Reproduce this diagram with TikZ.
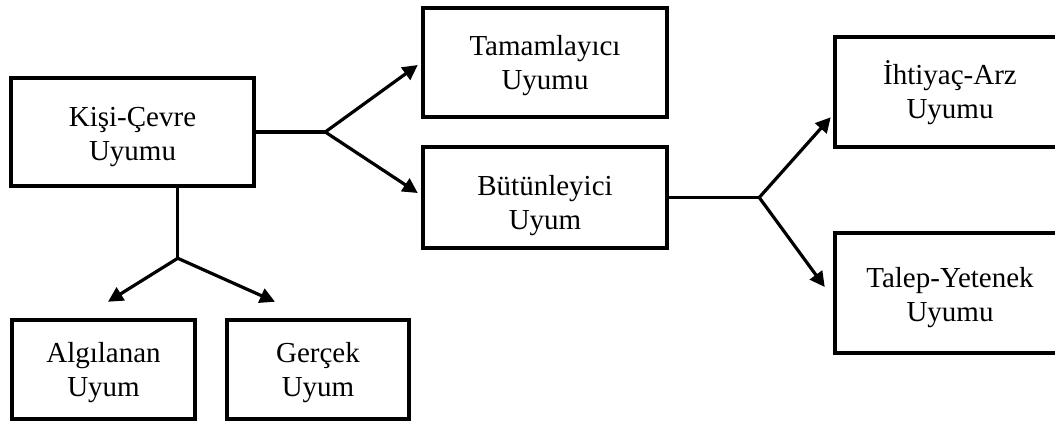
\documentclass[tikz,border=0pt]{standalone}
\usepackage{fontspec}
\setmainfont{Liberation Serif}
\usetikzlibrary{arrows.meta,calc}
% two centred lines, lowered a little inside the box
\newcommand\twolines[3][5pt]{%
  \raisebox{-#1}[\height][\depth]{\begin{tabular}{@{}c@{}}#2\\#3\end{tabular}}}
\tikzset{
  box/.style={draw, line width=4.5pt, rectangle, inner sep=0pt,
              font=\fontsize{29}{34}\selectfont},
  link/.style={line width=3.2pt},
  arrowlink/.style={link, -{Triangle[length=15pt,width=15pt]}}
}
\begin{document}
\begin{tikzpicture}[x=1pt,y=-1pt]
  \path[use as bounding box, clip] (0,0) rectangle (1055,424);

  % boxes
  \node[box, minimum width=243pt, minimum height=108pt] (kc)  at (132.5,132) {\twolines{Kişi-Çevre}{Uyumu}};
  \node[box, minimum width=244pt, minimum height=109pt] (tam) at (545,62.5)  {\twolines[3pt]{Tamamlayıcı}{Uyumu}};
  \node[box, minimum width=244pt, minimum height=101pt] (but) at (545,197.5) {\twolines[8pt]{Bütünleyici}{Uyum}};
  \node[box, minimum width=230pt, minimum height=110pt] (iht) at (950,92)    {\twolines[3pt]{İhtiyaç-Arz}{Uyumu}};
  \node[box, minimum width=230pt, minimum height=120pt] (tal) at (950,293)   {\twolines{Talep-Yetenek}{Uyumu}};
  \node[box, minimum width=183pt, minimum height=99pt]  (alg) at (103.5,369.5) {\twolines[3pt]{Algılanan}{Uyum}};
  \node[box, minimum width=182pt, minimum height=99pt]  (ger) at (318,369.5)   {\twolines[3pt]{Gerçek}{Uyum}};

  % branching points
  \coordinate (b1) at ($(kc.east)+(69,0)$);
  \coordinate (b2) at ($(but.east)+(90,0)$);
  \coordinate (kcs) at ($(kc.south west)+(169,0)$);
  \coordinate (b3) at ($(kcs)+(0,70)$);

  % Kişi-Çevre -> Tamamlayıcı / Bütünleyici
  \draw[link] (kc.east) -- (b1);
  \draw[arrowlink] (b1) -- ($(tam.west)+(-3,2.5)$);
  \draw[arrowlink] (b1) -- ($(but.west)+(-3,-4.5)$);

  % Bütünleyici -> İhtiyaç-Arz / Talep-Yetenek
  \draw[link] (but.east) -- (b2);
  \draw[arrowlink] (b2) -- ($(iht.south west)+(-2,-32)$);
  \draw[arrowlink] (b2) -- ($(tal.west)+(-8,-6)$);

  % Kişi-Çevre -> Algılanan / Gerçek
  \draw[link] (kcs) -- (b3);
  \draw[arrowlink] (b3) -- ($(alg.north)+(4.5,-16)$);
  \draw[arrowlink] (b3) -- ($(ger.north)+(-43,-16)$);
\end{tikzpicture}
\end{document}
